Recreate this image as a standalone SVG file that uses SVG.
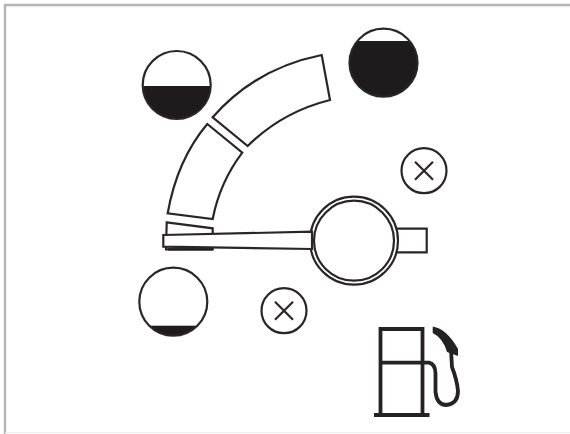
<svg xmlns="http://www.w3.org/2000/svg" width="570" height="434" viewBox="0 0 570 434">
<style>
.l{fill:none;stroke:#2a2626;stroke-width:2.2;stroke-linejoin:miter}
.w{fill:#fff;stroke:#2a2626;stroke-width:2.2}
.d{fill:#1f1a1b}
.p{fill:none;stroke:#262222;stroke-width:3.8}
</style>
<defs>
<clipPath id="c1"><circle cx="176.7" cy="85" r="34"/></clipPath>
<clipPath id="c2"><circle cx="383.5" cy="62.7" r="34"/></clipPath>
<clipPath id="c3"><circle cx="173.3" cy="301.7" r="34"/></clipPath>
</defs>
<rect width="570" height="434" fill="#fff"/>
<path d="M5 434V5H570" fill="none" stroke="#b5b5b5" stroke-width="2.400"/>
<path d="M5 432.500H570" fill="none" stroke="#efefef" stroke-width="1"/>
<g id="gauge-bands">
<path class="l" d="M212.700 117.300Q255 68.500 321.700 55L330 100Q282 112 247.700 146Z"/>
<path class="l" d="M207.300 124L242.300 152.700Q220 182 212.700 219L167.700 213.300Q177 160 207.300 124Z"/>
<path class="l" d="M166.700 222.300L212.700 228.300V249.300H166Z"/>
<path d="M168 248.300H212.700V250.500H168Z" class="d"/>
</g>
<g id="level-half">
<rect class="d" x="140" y="86" width="74" height="36" clip-path="url(#c1)"/>
<circle class="l" cx="176.700" cy="85" r="34"/>
</g>
<g id="level-full">
<rect class="d" x="345" y="41" width="78" height="60" clip-path="url(#c2)"/>
<circle class="l" cx="383.500" cy="62.700" r="34"/>
</g>
<g id="level-low">
<rect class="d" x="135" y="325.700" width="78" height="14" clip-path="url(#c3)"/>
<circle class="l" cx="173.300" cy="301.700" r="34"/>
</g>
<g id="needle">
<path class="w" d="M395 228.700H426.700V252.300H395Z"/>
<circle class="w" cx="354" cy="240.700" r="44"/>
<path class="w" d="M163.300 235L312 231.700V249L163.300 246.700Z"/>
<circle class="w" cx="354" cy="240.700" r="40"/>
</g>
<g id="cross-right">
<circle class="l" cx="424" cy="170.700" r="22.500"/>
<path class="l" d="M415 161.700L433 179.700M433 161.700L415 179.700"/>
</g>
<g id="cross-left">
<circle class="l" cx="284" cy="310.700" r="22.500"/>
<path class="l" d="M275 301.700L293 319.700M293 301.700L275 319.700"/>
</g>
<g id="fuel-pump">
<path class="p" d="M380.500 415V329H422.500V415M380.500 362.700H429Q435 364 435.500 373V392Q437 405 446 405Q458 404 458 391Q457 380 452 367L451 350"/>
<path d="M374 413H429.500V417H374Z" fill="#262222"/>
<path d="M432.700 326.500Q447 329 458 349V356L447 352Q443 338 432.700 333Z" fill="#262222"/>
</g>
</svg>
